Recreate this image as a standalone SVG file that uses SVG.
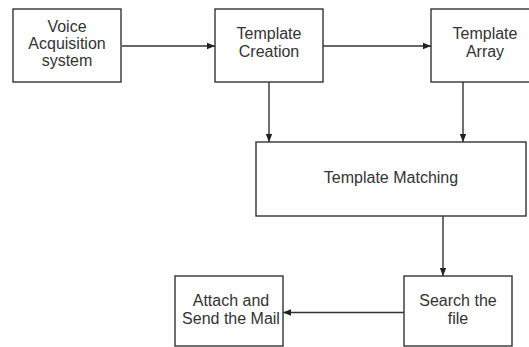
<svg xmlns="http://www.w3.org/2000/svg" width="529" height="347" viewBox="0 0 529 347">
<style>
.box{fill:#fff;stroke:#333;stroke-width:1.4}
.lbl{font-family:"Liberation Sans",Arial,sans-serif;font-size:16px;fill:#333;text-anchor:middle}
.con{fill:none;stroke:#333;stroke-width:1.4}
</style>
<defs>
<marker id="ah" markerWidth="8" markerHeight="8" refX="8" refY="4" orient="auto" markerUnits="userSpaceOnUse">
<path d="M0,0.8 L8,4 L0,7.2 Z" fill="#222"/>
</marker>
</defs>
<rect width="529" height="347" fill="#fff"/>
<g id="connectors">
<line class="con" x1="122" y1="46" x2="215" y2="46" marker-end="url(#ah)"/>
<line class="con" x1="323" y1="46" x2="431" y2="46" marker-end="url(#ah)"/>
<line class="con" x1="269" y1="82" x2="269" y2="142" marker-end="url(#ah)"/>
<line class="con" x1="463" y1="82" x2="463" y2="142" marker-end="url(#ah)"/>
<line class="con" x1="443" y1="216" x2="443" y2="276" marker-end="url(#ah)"/>
<line class="con" x1="404" y1="312.5" x2="283" y2="312.5" marker-end="url(#ah)"/>
</g>
<g id="voice">
<rect class="box" x="13" y="9" width="108" height="73"/>
<text class="lbl" x="67" y="31.5">Voice</text>
<text class="lbl" x="67" y="49">Acquisition</text>
<text class="lbl" x="67" y="66">system</text>
</g>
<g id="creation">
<rect class="box" x="215" y="9" width="108" height="73"/>
<text class="lbl" x="269" y="39">Template</text>
<text class="lbl" x="269" y="57">Creation</text>
</g>
<g id="array">
<rect class="box" x="431" y="9" width="108" height="73"/>
<text class="lbl" x="485" y="39">Template</text>
<text class="lbl" x="485" y="57">Array</text>
</g>
<g id="matching">
<rect class="box" x="256" y="142" width="270" height="74"/>
<text class="lbl" x="391" y="182.5">Template Matching</text>
</g>
<g id="search">
<rect class="box" x="404" y="276" width="108" height="70"/>
<text class="lbl" x="458" y="306">Search the</text>
<text class="lbl" x="458" y="324">file</text>
</g>
<g id="attach">
<rect class="box" x="175" y="276" width="108" height="70"/>
<text class="lbl" x="231" y="306">Attach and</text>
<text class="lbl" x="231" y="324">Send the Mail</text>
</g>
</svg>
